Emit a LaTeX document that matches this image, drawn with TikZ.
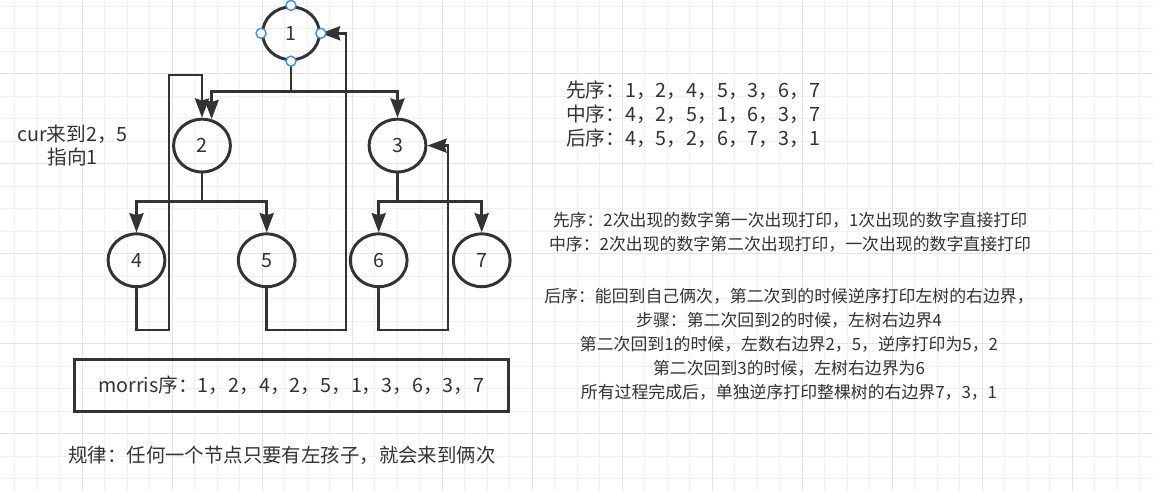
\documentclass[tikz,border=0pt]{standalone}
\usepackage{fontspec}
\newfontfamily\cjk{Noto Sans CJK SC}
\usepackage{tikz}
\usetikzlibrary{arrows.meta,shapes.geometric}
\usepackage{xcolor}
\definecolor{ink}{HTML}{333333}
\definecolor{gridminor}{HTML}{F1F1F1}
\definecolor{gridmajor}{HTML}{E4E4E4}
\definecolor{handleblue}{HTML}{3D8EF0}

\begin{document}
\begin{tikzpicture}[
              x=0.025cm,
              y=-0.025cm,
              font=\cjk\fontsize{14}{17}\selectfont,
              >={Stealth[length=0.48cm, width=0.35cm, inset=0.05cm]},
              treenode/.style={draw=ink, ellipse, line width=2.1pt, minimum width=1.42cm, minimum height=1.32cm, inner sep=0pt, text=ink},
              handle/.style={draw=handleblue, fill=white, circle, line width=1pt, minimum size=0.25cm, inner sep=0pt},
              note/.style={text=ink, inner sep=0pt},
              smallnote/.style={note, font=\cjk\fontsize{12}{17}\selectfont},
              seqbox/.style={draw=ink, line width=2.1pt, minimum width=10.83cm, minimum height=1.3cm, text=ink},
              minorgrid/.style={draw=gridminor, line width=0.7pt},
              majorgrid/.style={draw=gridmajor, line width=0.7pt},
              arrow/.style={->, line width=2.1pt, draw=ink}
            ]
            % background grid
            \fill[white] (0,0) rectangle (1153,491);
            \useasboundingbox (0,0) rectangle (1153,491);
            \foreach \gx in {0,...,50}
              \draw[minorgrid] (14.83+22.5*\gx,0) -- (14.83+22.5*\gx,491);
            \foreach \gy in {0,...,21}
              \draw[minorgrid] (0,6.1+22.5*\gy) -- (1153,6.1+22.5*\gy);
            \foreach \gx in {0,...,11}
              \draw[majorgrid] (82.33+90*\gx,0) -- (82.33+90*\gx,491);
            \foreach \gy in {0,...,4}
              \draw[majorgrid] (0,73.6+90*\gy) -- (1153,73.6+90*\gy);

            % tree
            \node[treenode] (n1) at (291,33.3) {1};
            \node[treenode] (n2) at (202,145.6) {2};
            \node[treenode] (n3) at (397.5,145.6) {3};
            \node[treenode] (n4) at (136.5,260.3) {4};
            \node[treenode] (n5) at (266.7,260.3) {5};
            \node[treenode] (n6) at (378.7,260.3) {6};
            \node[treenode] (n7) at (481.7,260.3) {7};

            \draw[arrow] (n1.south) -- ++(0,30) -| (n2.70);
            \draw[arrow] (n1.south) -- ++(0,30) -| (n3.north);
            \draw[arrow] (n2.south) -- ++(0,28) -| (n4.north);
            \draw[arrow] (n2.south) -- ++(0,28) -| (n5.north);
            \draw[arrow] (n3.south) -- ++(0,28) -| (n6.north);
            \draw[arrow] (n3.south) -- ++(0,28) -| (n7.north);

            % morris threads
            \coordinate (loop4) at (169,330);
            \coordinate (loop4top) at (169,75);
            \coordinate (loop5) at (346,330);
            \coordinate (loop6) at (448,330);

            \draw[arrow] (n4.south) |- (loop4) -- (loop4top) -| (n2.north);
            \draw[arrow] (n5.south) |- (loop5) |- (n1.east);
            \draw[arrow] (n6.south) |- (loop6) |- (n3.east);

            \foreach \a in {north,south,east,west}
              \node[handle] (h-\a) at (n1.\a) {};

            % texts
            \node[note, align=center, font=\cjk\fontsize{14}{16}\selectfont] (curnote) at (72.5,145.3) {cur来到2，5\\指向1};
            \node[note, align=left, anchor=west] (orders) at (566,114.5) {
              先序：1，2，4，5，3，6，7\\
              中序：4，2，5，1，6，3，7\\
              后序：4，5，2，6，7，3，1
            };
            \node[smallnote, align=center] (visits) at (790,232.5) {
              先序：2次出现的数字第一次出现打印，1次出现的数字直接打印\\
              中序：2次出现的数字第二次出现打印，一次出现的数字直接打印
            };
            \node[smallnote, align=center] (postorder) at (789,344.2) {
              后序：能回到自己俩次，第二次到的时候逆序打印左树的右边界，\\
              步骤：第二次回到2的时候，左树右边界4\\
              第二次回到1的时候，左数右边界2，5，逆序打印为5，2\\
              第二次回到3的时候，左树右边界为6\\
              所有过程完成后，单独逆序打印整棵树的右边界7，3，1
            };
            \node[seqbox] (morris) at (291.5,385.5) {morris序：1，2，4，2，5，1，3，6，3，7};
            \node[note, font=\cjk\fontsize{13.8}{16}\selectfont] (rule) at (282,455) {规律：任何一个节点只要有左孩子，就会来到俩次};
            \end{tikzpicture}
\end{document}
